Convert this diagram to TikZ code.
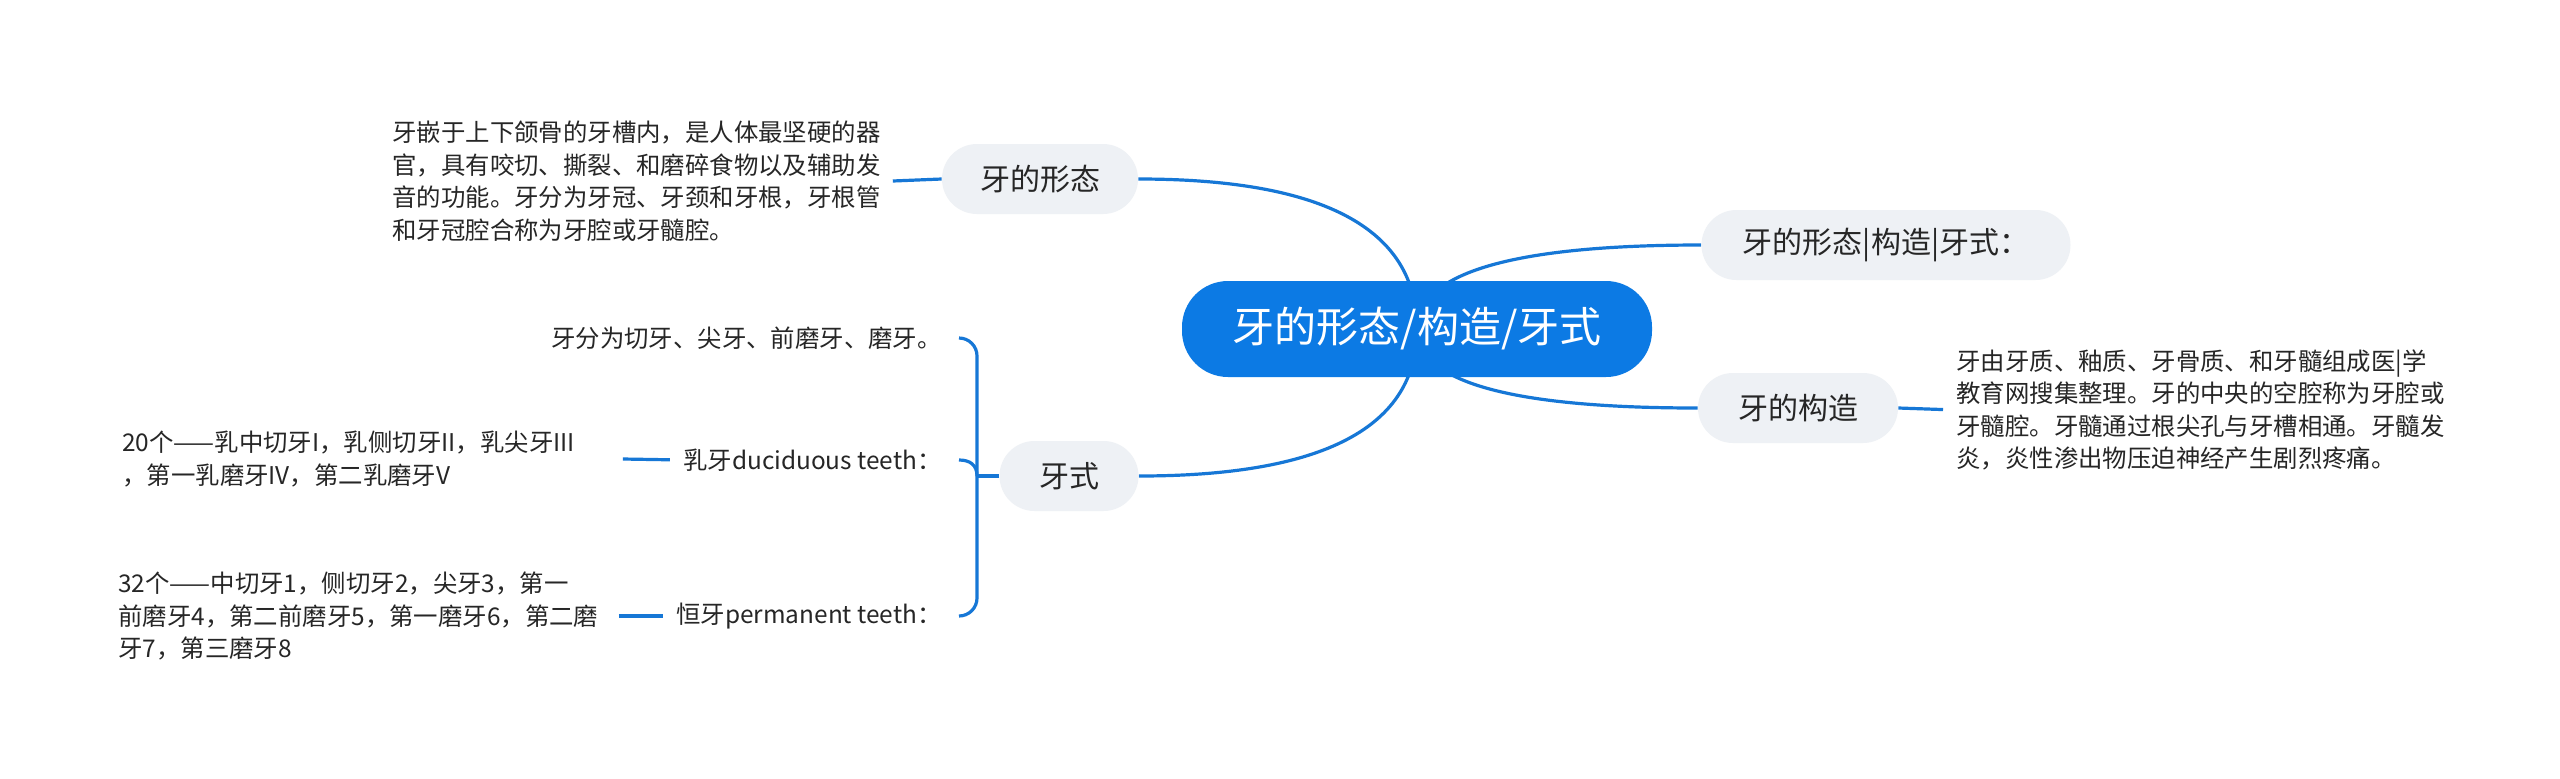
\documentclass[tikz,border=0pt]{standalone}
\usepackage{fontspec}
\setmainfont{Noto Sans CJK SC}
\usetikzlibrary{calc}
\definecolor{mblue}{RGB}{12,122,228}
\definecolor{lblue}{RGB}{22,119,214}
\definecolor{nfill}{RGB}{238,241,245}
\definecolor{tcol}{RGB}{38,38,38}
\pgfdeclarelayer{back}
\pgfdeclarelayer{lines}
\pgfsetlayers{back,lines,main}
\begin{document}
\begin{tikzpicture}[x=0.5pt,y=-0.5pt,
  conn/.style={draw=lblue,line width=1.6pt},
  root/.style={fill=mblue,text=white,rounded corners=23pt,minimum height=48pt,minimum width=235pt,inner sep=0pt,font=\fontsize{21}{25}\selectfont},
  topic/.style={fill=nfill,text=tcol,rounded corners=17.5pt,minimum height=35pt,inner sep=0pt,font=\fontsize{15}{18}\selectfont},
  desc/.style={text=tcol,align=left,text width=250pt,inner sep=0pt,font=\fontsize{12.2}{16.25}\selectfont},
  lbl/.style={text=tcol,inner sep=0pt,font=\fontsize{12.2}{16.25}\selectfont}]
\begin{pgfonlayer}{back}
\fill[white] (0,0) rectangle (2560,778);
\end{pgfonlayer}
\useasboundingbox (0,0) rectangle (2560,778);

\node[root] (root) at (1417,329) {牙的形态/构造/牙式};
\node[topic,minimum width=98pt] (xt) at (1040,179) {牙的形态};
\node[topic,minimum width=184.5pt] (fs) at (1886,245) {牙的形态|构造|牙式：};
\node[topic,minimum width=100pt] (gz) at (1798,408) {牙的构造};
\node[topic,minimum width=69.5pt] (ys) at (1069,476) {牙式};

\node[desc,anchor=west] (xtd) at (392,181) {牙嵌于上下颌骨的牙槽内，是人体最坚硬的器\\官，具有咬切、撕裂、和磨碎食物以及辅助发\\音的功能。牙分为牙冠、牙颈和牙根，牙根管\\和牙冠腔合称为牙腔或牙髓腔。};
\node[desc,anchor=west] (gzd) at (1956,410) {牙由牙质、釉质、牙骨质、和牙髓组成医|学\\教育网搜集整理。牙的中央的空腔称为牙腔或\\牙髓腔。牙髓通过根尖孔与牙槽相通。牙髓发\\炎，炎性渗出物压迫神经产生剧烈疼痛。};
\node[desc,anchor=west] (ryd) at (122,459) {20个——乳中切牙I，乳侧切牙II，乳尖牙III\\，第一乳磨牙IV，第二乳磨牙V};
\node[desc,anchor=west] (hyd) at (118,616) {32个——中切牙1，侧切牙2，尖牙3，第一\\前磨牙4，第二前磨牙5，第一磨牙6，第二磨\\牙7，第三磨牙8};

\node[lbl,anchor=east] (fl) at (942,338) {牙分为切牙、尖牙、前磨牙、磨牙。};
\node[lbl,anchor=east] (rya) at (942,460) {乳牙duciduous teeth：};
\node[lbl,anchor=east] (hya) at (942,616) {恒牙permanent teeth：};

\coordinate (j) at (977,476);

\begin{pgfonlayer}{lines}
\draw[conn] (root.center) .. controls (1417,229) and (1324,179) .. (xt.east);
\draw[conn] (root.center) .. controls (1417,427) and (1324,476) .. (ys.east);
\draw[conn] (root.center) .. controls (1417,273) and (1512,245) .. (fs.west);
\draw[conn] (root.center) .. controls (1417,382) and (1511,408) .. (gz.west);

\draw[conn] (xtd.east) -- (xt.west);
\draw[conn,shorten >=6.5pt] (gz.east) -- (gzd.west);
\draw[conn,shorten >=6.5pt] (ryd.east) -- (rya.west);
\draw[conn,shorten >=6.5pt] (hyd.east) -- (hya.west);

\draw[conn] (ys.west) -- (j);
\draw[conn,rounded corners=9pt] (j) |- ($(fl.east)+(17,0)$);
\draw[conn,rounded corners=9pt] (j) |- ($(hya.east)+(17,0)$);
\draw[conn] (j) .. controls (977,465) and (970,460) .. ($(rya.east)+(17,0)$);
\end{pgfonlayer}
\end{tikzpicture}
\end{document}
